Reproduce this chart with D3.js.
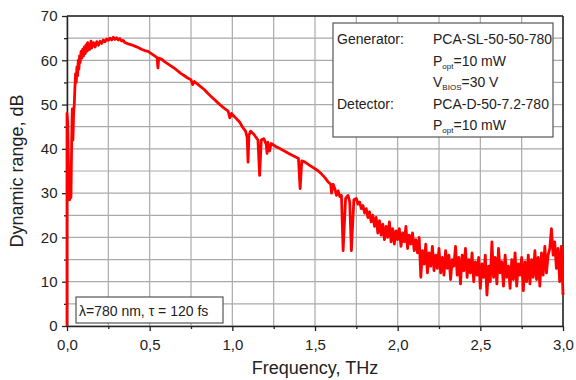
<!DOCTYPE html>
<html>
<head>
<meta charset="utf-8">
<script src="https://cdn.jsdelivr.net/npm/d3@7"></script>
<style>
body{margin:0;background:#fff;}
svg{display:block;font-family:"Liberation Sans",Arial,sans-serif;}
</style>
</head>
<body>
<svg id="chart" width="576" height="380"></svg>
<script>
// Spectrum: [frequency THz, dynamic range dB]
const spectrum = [
[0.000,0],[0.000,48],[0.004,46],[0.008,38],[0.012,30],[0.016,28.5],[0.020,33],[0.024,29],[0.028,41],[0.032,49],
[0.036,42],[0.040,48],[0.044,50],[0.048,54],[0.052,57],[0.056,55],[0.060,58.5],[0.064,56.5],[0.068,60],[0.072,58],
[0.076,61],[0.080,59.5],[0.085,62],[0.090,60.5],[0.095,62.5],[0.100,61],[0.105,63],[0.110,61.5],[0.115,63.5],[0.120,62],
[0.125,64],[0.130,62.3],[0.135,63.5],[0.140,62.5],[0.145,64.3],[0.150,62.8],[0.160,64],[0.170,63],[0.180,64.2],[0.190,63.4],
[0.200,64.3],[0.210,63.8],[0.220,64.6],[0.230,64.2],[0.240,64.8],[0.250,64.5],[0.260,65],[0.270,64.6],[0.280,65.2],[0.290,64.7],
[0.300,65.1],[0.310,64.6],[0.320,64.9],[0.330,64.4],[0.340,64.5],[0.350,64],[0.370,63.7],[0.390,63.5],[0.410,63.2],[0.430,62.9],
[0.450,62.5],[0.470,62.2],[0.490,62],[0.510,61.5],[0.530,61],[0.545,60.6],[0.550,58.3],[0.555,60.5],[0.570,60.3],[0.590,59.7],
[0.610,59.2],[0.630,58.7],[0.650,58.2],[0.670,57.6],[0.690,57],[0.710,56.5],[0.730,56],[0.750,55.6],[0.760,54.5],[0.770,55.2],
[0.790,54.6],[0.810,54],[0.830,53.4],[0.850,52.6],[0.870,51.9],[0.890,51.2],[0.910,50.5],[0.930,49.8],[0.950,49.2],[0.975,48.5],
[0.985,47],[0.995,48],[1.020,47],[1.045,46],[1.060,45],[1.080,44],[1.090,42.5],[1.095,37],[1.100,43],[1.110,44],
[1.130,43.3],[1.155,42],[1.165,34],[1.175,42],[1.190,42.3],[1.205,41],[1.210,39],[1.215,41.5],[1.225,39.5],[1.235,41.2],
[1.260,40.6],[1.290,40],[1.320,39.4],[1.350,38.8],[1.380,38.2],[1.400,37.8],[1.410,31],[1.420,37.3],[1.440,37],[1.470,36.2],
[1.500,35.5],[1.520,35],[1.540,34.3],[1.560,33.5],[1.580,32.5],[1.595,32],[1.600,30],[1.610,32],[1.620,31],[1.630,29.5],
[1.640,30.5],[1.650,29.2],[1.660,29.5],[1.670,17],[1.685,28.8],[1.700,29.5],[1.710,28],[1.720,17],[1.735,28.5],[1.750,28.8],
[1.760,27.5],[1.770,28],[1.780,26.5],[1.790,27.2],[1.800,25.5],[1.810,26.5],[1.820,24.5],[1.830,25.8],[1.840,23.5],[1.850,25],
[1.860,22.5],[1.870,24.5],[1.880,21],[1.890,23.8],[1.900,20.5],[1.910,23],[1.920,19.5],[1.930,22.5],[1.940,20],[1.950,23.5],
[1.960,19],[1.970,22],[1.980,18.5],[1.990,21.5],[2.000,19.5],[2.010,22],[2.020,18],[2.030,21],[2.040,19],[2.050,22.5],
[2.060,17.5],[2.070,20.5],[2.080,18.5],[2.090,21],[2.100,17],[2.110,19.5],[2.120,16.5],[2.130,20],[2.140,11],[2.150,17],
[2.160,14],[2.170,18.5],[2.180,12],[2.190,16.5],[2.200,13.5],[2.210,18],[2.220,12.5],[2.230,16],[2.240,13],[2.250,17.5],
[2.260,12],[2.270,15.5],[2.280,11.5],[2.290,17],[2.300,13],[2.310,16],[2.320,10.5],[2.330,15],[2.340,13.5],[2.350,18],
[2.360,11.5],[2.370,15.5],[2.380,9.5],[2.390,16],[2.400,12.5],[2.410,17.5],[2.420,11],[2.430,15],[2.440,12],[2.450,16.5],
[2.460,10],[2.470,14.5],[2.480,11.5],[2.490,15.5],[2.500,8.5],[2.510,14],[2.520,11],[2.530,16],[2.540,7],[2.550,13.5],
[2.560,10],[2.570,19],[2.580,11],[2.590,15.5],[2.600,9.5],[2.610,17.5],[2.620,12],[2.630,14.5],[2.640,9],[2.650,16],
[2.660,11],[2.670,13.5],[2.680,8.5],[2.690,15],[2.700,10.5],[2.710,16.5],[2.720,9],[2.730,14],[2.740,11.5],[2.750,15.5],
[2.760,8],[2.770,14.5],[2.780,10],[2.790,16],[2.800,9.5],[2.810,15],[2.820,11],[2.830,17],[2.840,10.5],[2.850,15.5],
[2.860,9],[2.870,16.5],[2.880,11.5],[2.890,18],[2.900,12],[2.910,16],[2.920,17.5],[2.930,22],[2.940,16],[2.950,19],
[2.960,13],[2.970,17.5],[2.980,10],[2.990,18],[3.000,7]
];
const xTicks = [0, 0.5, 1.0, 1.5, 2.0, 2.5, 3.0];
const xMinor = [0.25, 0.75, 1.25, 1.75, 2.25, 2.75];
const yTicks = [0, 10, 20, 30, 40, 50, 60, 70];
const yMinor = [5, 15, 25, 35, 45, 55, 65];
const legendRows = [
  {left:"Generator:", main:"PCA-SL-50-50-780", sub:"", tail:""},
  {left:"", main:"P", sub:"opt", tail:"=10 mW"},
  {left:"", main:"V", sub:"BIOS", tail:"=30 V"},
  {left:"Detector:", main:"PCA-D-50-7.2-780", sub:"", tail:""},
  {left:"", main:"P", sub:"opt", tail:"=10 mW"}
];
const noteText = "λ=780 nm, τ = 120 fs";

const W = 576, H = 380;
const m = {l:67, r:13, t:16, b:54};
const svg = d3.select("#chart");
const x = d3.scaleLinear().domain([0,3]).range([m.l, W-m.r]);
const y = d3.scaleLinear().domain([0,70]).range([H-m.b, m.t]);
const fmt = d => d3.format(".1f")(d).replace(".", ",");

// grid
const g = svg.append("g");
g.selectAll(".vg").data(xTicks.concat(xMinor)).enter().append("line")
  .attr("x1", d=>x(d)).attr("x2", d=>x(d)).attr("y1", y(0)).attr("y2", y(70))
  .attr("stroke", "#aaaaaa").attr("stroke-width", 1.2);
g.selectAll(".hg").data(yTicks.concat(yMinor)).enter().append("line")
  .attr("x1", x(0)).attr("x2", x(3)).attr("y1", d=>y(d)).attr("y2", d=>y(d))
  .attr("stroke", "#aaaaaa").attr("stroke-width", 1.2);

// axes
const xAxis = svg.append("g").attr("transform", `translate(0,${y(0)})`)
  .call(d3.axisBottom(x).tickValues(xTicks).tickFormat(fmt).tickSize(5).tickSizeOuter(0));
svg.append("g").attr("transform", `translate(0,${y(0)})`)
  .call(d3.axisBottom(x).tickValues(xMinor).tickFormat("").tickSize(3).tickSizeOuter(0))
  .select(".domain").remove();
const yAxis = svg.append("g").attr("transform", `translate(${x(0)},0)`)
  .call(d3.axisLeft(y).tickValues(yTicks).tickSize(5).tickSizeOuter(0));
svg.append("g").attr("transform", `translate(${x(0)},0)`)
  .call(d3.axisLeft(y).tickValues(yMinor).tickFormat("").tickSize(3).tickSizeOuter(0))
  .select(".domain").remove();
svg.selectAll(".tick line").attr("stroke", "#222").attr("stroke-width", 1.3);
svg.selectAll(".domain").attr("stroke", "#222").attr("stroke-width", 1.5);
xAxis.selectAll("text").attr("font-size", 15).attr("fill", "#222").attr("dy", "1.05em");
yAxis.selectAll("text").attr("font-size", 15).attr("fill", "#222").attr("dx", "-0.1em");

// frame top/right
svg.append("line").attr("x1", x(0)).attr("x2", x(3)).attr("y1", y(70)).attr("y2", y(70))
  .attr("stroke", "#222").attr("stroke-width", 1.5);
svg.append("line").attr("x1", x(3)).attr("x2", x(3)).attr("y1", y(70)).attr("y2", y(0))
  .attr("stroke", "#222").attr("stroke-width", 1.5);

// curve
svg.append("path").datum(spectrum)
  .attr("d", d3.line().x(d=>x(d[0])).y(d=>y(d[1])))
  .attr("fill", "none").attr("stroke", "#ff0000").attr("stroke-width", 2.8)
  .attr("stroke-linejoin", "round");

// axis titles
svg.append("text").attr("x", (x(0)+x(3))/2).attr("y", 374).attr("text-anchor", "middle")
  .attr("font-size", 18).attr("fill", "#222").text("Frequency, THz");
svg.append("text").attr("transform", `translate(23,${(y(0)+y(70))/2}) rotate(-90)`)
  .attr("text-anchor", "middle").attr("font-size", 18).attr("fill", "#222").text("Dynamic range, dB");

// legend box
svg.append("rect").attr("x", 333).attr("y", 23).attr("width", 220).attr("height", 114)
  .attr("fill", "#fff").attr("stroke", "#555").attr("stroke-width", 1.2);
const rowY = [44, 66, 87, 109, 130];
legendRows.forEach((r, i) => {
  if (r.left) svg.append("text").attr("x", 337).attr("y", rowY[i]).attr("font-size", 14)
    .attr("fill", "#222").text(r.left);
  const t = svg.append("text").attr("x", 433).attr("y", rowY[i]).attr("font-size", 14).attr("fill", "#222");
  t.append("tspan").text(r.main);
  if (r.sub) {
    t.append("tspan").attr("font-size", 8).attr("dy", 3).text(r.sub);
    t.append("tspan").attr("dy", -3).text(r.tail);
  }
});

// note box
svg.append("rect").attr("x", 76).attr("y", 297).attr("width", 147).attr("height", 26)
  .attr("fill", "#fff").attr("stroke", "#555").attr("stroke-width", 1.2);
svg.append("text").attr("x", 79).attr("y", 316).attr("font-size", 14).attr("fill", "#222").text(noteText);
</script>
</body>
</html>
